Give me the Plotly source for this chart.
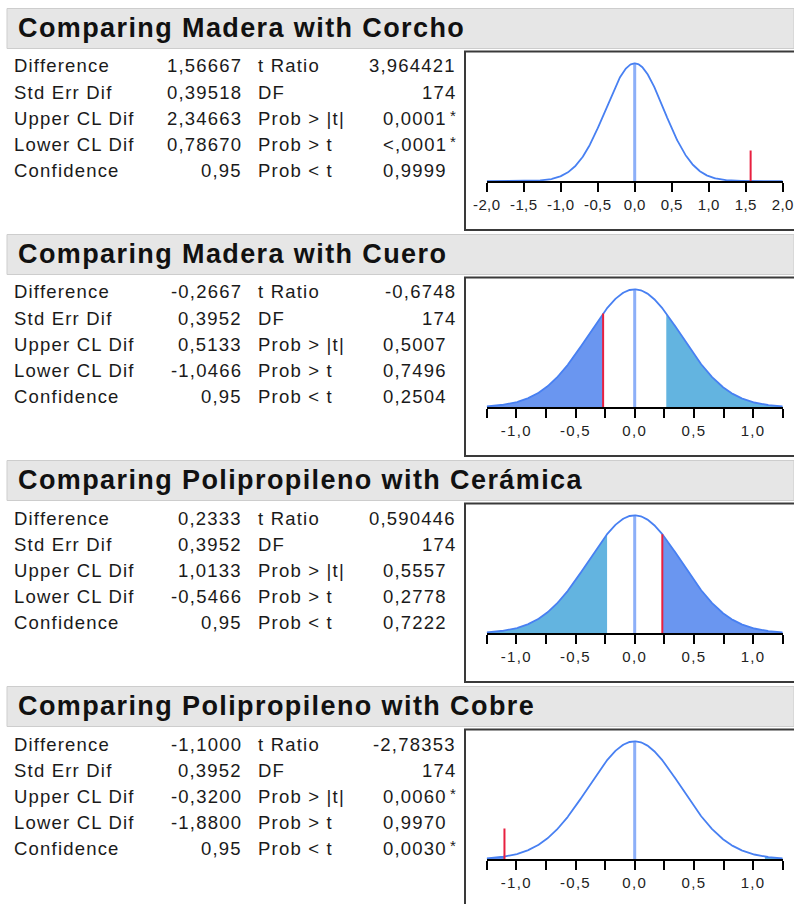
import math
import numpy as np
import plotly.graph_objects as go

# ---- report values (text exactly as printed; numbers parsed from the text) ----
titles = [
    "Comparing Madera with Corcho",
    "Comparing Madera with Cuero",
    "Comparing Polipropileno with Cerámica",
    "Comparing Polipropileno with Cobre",
]
difference_txt = ["1,56667", "-0,2667", "0,2333", "-1,1000"]
std_err_txt = ["0,39518", "0,3952", "0,3952", "0,3952"]
upper_cl_txt = ["2,34663", "0,5133", "1,0133", "-0,3200"]
lower_cl_txt = ["0,78670", "-1,0466", "-0,5466", "-1,8800"]
confidence_txt = ["0,95", "0,95", "0,95", "0,95"]
t_ratio_txt = ["3,964421", "-0,6748", "0,590446", "-2,78353"]
df_txt = ["174", "174", "174", "174"]
prob_abs_txt = ["0,0001", "0,5007", "0,5557", "0,0060"]
prob_abs_sig = [True, False, False, True]
prob_gt_txt = ["&lt;,0001", "0,7496", "0,2778", "0,9970"]
prob_gt_sig = [True, False, False, False]
prob_lt_txt = ["0,9999", "0,2504", "0,7222", "0,0030"]
prob_lt_sig = [False, False, False, True]

row_labels_left = ["Difference", "Std Err Dif", "Upper CL Dif", "Lower CL Dif", "Confidence"]
row_labels_right = ["t Ratio", "DF", "Prob &gt; |t|", "Prob &gt; t", "Prob &lt; t"]

# axis extents and ticks of each density plot
x_limits = [2.0, 1.25, 1.25, 1.25]
tick_vals = [
    [-2.0, -1.5, -1.0, -0.5, 0.0, 0.5, 1.0, 1.5, 2.0],
    [-1.25, -1.0, -0.75, -0.5, -0.25, 0.0, 0.25, 0.5, 0.75, 1.0, 1.25],
    [-1.25, -1.0, -0.75, -0.5, -0.25, 0.0, 0.25, 0.5, 0.75, 1.0, 1.25],
    [-1.25, -1.0, -0.75, -0.5, -0.25, 0.0, 0.25, 0.5, 0.75, 1.0, 1.25],
]
tick_text = [
    ["-2,0", "-1,5", "-1,0", "-0,5", "0,0", "0,5", "1,0", "1,5", "2,0"],
    ["", "-1,0", "", "-0,5", "", "0,0", "", "0,5", "", "1,0", ""],
    ["", "-1,0", "", "-0,5", "", "0,0", "", "0,5", "", "1,0", ""],
    ["", "-1,0", "", "-0,5", "", "0,0", "", "0,5", "", "1,0", ""],
]

# ---- styling ----
W, H = 794, 904
FONT = "Liberation Sans"
CURVE = "rgb(72,128,242)"
NEAR_FILL = "rgb(106,150,240)"
FAR_FILL = "rgb(99,180,224)"
CENTER = "rgb(140,175,248)"
MARK = "rgb(232,32,64)"
PANEL_STEP = 226
TICK_SPACING = [0.4, 1.3, 1.3, 1.3]


def num(s):
    return float(s.replace(",", "."))


def px_x(p):
    return p / W


def px_y(p):
    return 1 - p / H


def spaced(s, sp):
    return f'<span style="letter-spacing:{sp}px">{s}</span>' if s else s


def t_pdf(t, nu):
    c = math.exp(math.lgamma((nu + 1) / 2) - math.lgamma(nu / 2)) / math.sqrt(nu * math.pi)
    return c * (1 + t * t / nu) ** (-(nu + 1) / 2)


fig = go.Figure()
shapes, annotations = [], []

for i in range(4):
    top = 9 + PANEL_STEP * i
    d = num(difference_txt[i])
    se = num(std_err_txt[i])
    nu = int(df_txt[i])
    lim = x_limits[i]

    def dens(x):
        return t_pdf(x / se, nu) / se

    peak = dens(0.0)
    ax = "" if i == 0 else str(i + 1)
    xa, ya = "x" + ax, "y" + ax

    # shaded tails beyond |difference|
    a = abs(d)
    left = np.linspace(-lim, -a, 200)
    right = np.linspace(a, lim, 200)
    left_col = NEAR_FILL if d < 0 else FAR_FILL
    right_col = NEAR_FILL if d >= 0 else FAR_FILL
    for xs, col in ((left, left_col), (right, right_col)):
        fig.add_trace(go.Scatter(
            x=xs, y=[dens(v) for v in xs], mode="lines", line=dict(width=0),
            fill="tozeroy", fillcolor=col, xaxis=xa, yaxis=ya,
            hoverinfo="skip", showlegend=False))

    # centre line at zero
    fig.add_trace(go.Scatter(
        x=[0, 0], y=[0, peak], mode="lines", line=dict(color=CENTER, width=3),
        xaxis=xa, yaxis=ya, hoverinfo="skip", showlegend=False))

    # density curve
    xs = np.linspace(-lim, lim, 500)
    fig.add_trace(go.Scatter(
        x=xs, y=[dens(v) for v in xs], mode="lines", line=dict(color=CURVE, width=1.8),
        xaxis=xa, yaxis=ya, hoverinfo="skip", showlegend=False))

    # observed difference marker
    mark_h = max(dens(d), 0.26 * peak)
    fig.add_trace(go.Scatter(
        x=[d, d], y=[0, mark_h], mode="lines", line=dict(color=MARK, width=2),
        xaxis=xa, yaxis=ya, hoverinfo="skip", showlegend=False))

    axis_px = top + 172.2
    top_px = axis_px - (172.2 - 54.3) * 1.1
    fig.update_layout(**{
        ("xaxis" + ax): dict(
            domain=[px_x(486.7), px_x(782.7)], range=[-lim, lim], anchor=ya,
            tickvals=tick_vals[i],
            ticktext=[spaced(t, TICK_SPACING[i]) for t in tick_text[i]],
            ticks="outside", ticklen=9, tickwidth=1.5, tickcolor="black", showline=True,
            linecolor="black", linewidth=2, showgrid=False, zeroline=False,
            automargin=False,
            tickfont=dict(family=FONT, size=15, color="#222"), fixedrange=True),
        ("yaxis" + ax): dict(
            domain=[px_y(axis_px), px_y(top_px)], range=[0, peak * 1.1],
            anchor=xa, visible=False, fixedrange=True, automargin=False),
    })

    # header bar and plot frame
    shapes.append(dict(type="rect", xref="paper", yref="paper",
                       x0=px_x(7), x1=1.0, y0=px_y(top - 0.5), y1=px_y(top + 39.5),
                       fillcolor="#e6e6e6", line=dict(color="#cdcdcd", width=1), layer="below"))
    shapes.append(dict(type="rect", xref="paper", yref="paper",
                       x0=px_x(465), x1=1.0 + 10 / W, y0=px_y(top + 42.5), y1=px_y(top + 221),
                       line=dict(color="#3a3a3a", width=2)))

    annotations.append(dict(
        x=px_x(16), y=px_y(top + 19), xref="paper", yref="paper", showarrow=False,
        xanchor="left", yanchor="middle", text="<b>" + spaced(titles[i], 1.4) + "</b>",
        font=dict(family=FONT, size=27, color="#111")))

    vals_left = [difference_txt[i], std_err_txt[i], upper_cl_txt[i], lower_cl_txt[i], confidence_txt[i]]
    vals_right = [t_ratio_txt[i], df_txt[i], prob_abs_txt[i], prob_gt_txt[i], prob_lt_txt[i]]
    sig = [False, False, prob_abs_sig[i], prob_gt_sig[i], prob_lt_sig[i]]
    is_prob = [False, False, True, True, True]
    for r in range(5):
        y = px_y(top + 57 + 26.1 * r)
        f = dict(family=FONT, size=18.5, color="#1a1a1a")
        annotations.append(dict(x=px_x(12), y=y, xref="paper", yref="paper", showarrow=False,
                                xanchor="left", yanchor="middle",
                                text=spaced(row_labels_left[r], 1.2), font=f))
        annotations.append(dict(x=px_x(244), y=y, xref="paper", yref="paper", showarrow=False,
                                xanchor="right", yanchor="middle",
                                text=spaced(vals_left[r], 1.2), font=f))
        annotations.append(dict(x=px_x(256), y=y, xref="paper", yref="paper", showarrow=False,
                                xanchor="left", yanchor="middle",
                                text=spaced(row_labels_right[r], 1.2), font=f))
        rx = 449 if is_prob[r] else 458
        annotations.append(dict(x=px_x(rx), y=y, xref="paper", yref="paper", showarrow=False,
                                xanchor="right", yanchor="middle",
                                text=spaced(vals_right[r], 1.2), font=f))
        if sig[r]:
            annotations.append(dict(x=px_x(447.5), y=px_y(top + 54 + 26.1 * r), xref="paper",
                                    yref="paper", showarrow=False, xanchor="left",
                                    yanchor="middle", text="*",
                                    font=dict(family=FONT, size=15, color="#1a1a1a")))

fig.update_layout(
    width=W, height=H, margin=dict(l=0, r=0, t=0, b=0, autoexpand=False),
    paper_bgcolor="white", plot_bgcolor="rgba(0,0,0,0)",
    shapes=shapes, annotations=annotations, showlegend=False,
)

fig.write_html("out.html")
